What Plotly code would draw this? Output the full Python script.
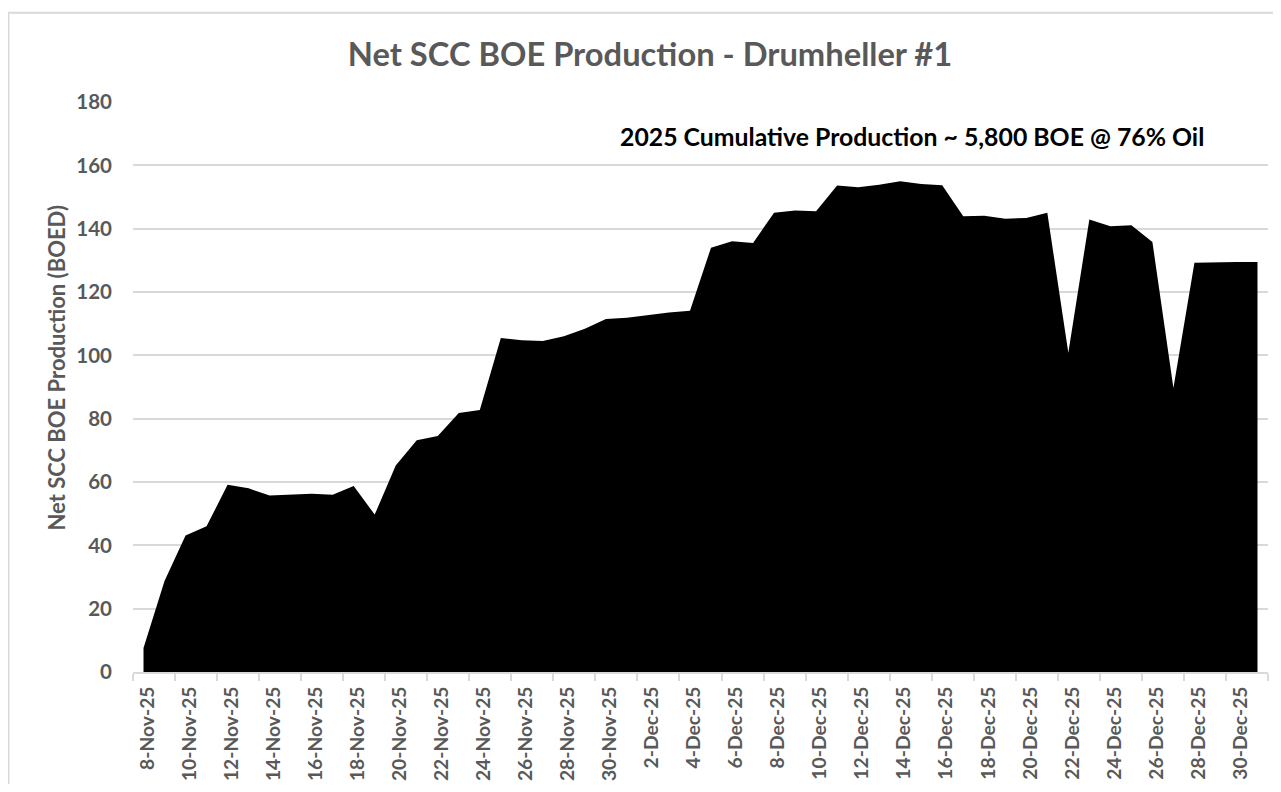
import plotly.graph_objects as go

dates = [
    "8-Nov-25", "9-Nov-25", "10-Nov-25", "11-Nov-25", "12-Nov-25", "13-Nov-25", "14-Nov-25",
    "15-Nov-25", "16-Nov-25", "17-Nov-25", "18-Nov-25", "19-Nov-25", "20-Nov-25", "21-Nov-25",
    "22-Nov-25", "23-Nov-25", "24-Nov-25", "25-Nov-25", "26-Nov-25", "27-Nov-25", "28-Nov-25",
    "29-Nov-25", "30-Nov-25", "1-Dec-25", "2-Dec-25", "3-Dec-25", "4-Dec-25", "5-Dec-25",
    "6-Dec-25", "7-Dec-25", "8-Dec-25", "9-Dec-25", "10-Dec-25", "11-Dec-25", "12-Dec-25",
    "13-Dec-25", "14-Dec-25", "15-Dec-25", "16-Dec-25", "17-Dec-25", "18-Dec-25", "19-Dec-25",
    "20-Dec-25", "21-Dec-25", "22-Dec-25", "23-Dec-25", "24-Dec-25", "25-Dec-25", "26-Dec-25",
    "27-Dec-25", "28-Dec-25", "29-Dec-25", "30-Dec-25", "31-Dec-25",
]

boed = [
    7.6, 28.7, 43.1, 46.0, 59.1, 58.0, 55.7, 56.0, 56.3, 56.0, 58.7, 49.7, 65.2, 73.2,
    74.5, 81.8, 82.7, 105.5, 104.8, 104.5, 106.0, 108.4, 111.5, 111.9, 112.8, 113.5, 114.1,
    134.0, 136.0, 135.5, 145.0, 145.7, 145.5, 153.6, 153.1, 153.9, 155.0, 154.1, 153.7,
    143.9, 144.1, 143.1, 143.4, 145.0, 100.8, 142.9, 140.8, 141.1, 135.8, 89.7, 129.2,
    129.4, 129.5, 129.5,
]

y_ticks = [0, 20, 40, 60, 80, 100, 120, 140, 160, 180]

title_text = "Net SCC BOE Production - Drumheller #1"
y_title_text = "Net SCC BOE Production (BOED)"
note_text = "2025 Cumulative Production ~ 5,800 BOE @ 76% Oil"

pos = list(range(len(dates)))
label_pos = pos[::2]
label_text = dates[::2]
boundary_ticks = [p - 0.5 for p in pos[::2]] + [pos[-1] + 0.5]

GRID = "#d9d9d9"
TXT = "#595959"
FONT = "Lato"

# the page body adds an 8px offset; figure coords = screen coords - 8
OFF = 8
W, H = 1265, 776
L = 133 - OFF
T = 102.3 - OFF
R = W - (1268 - OFF)
B = H - (672.5 - OFF)

fig = go.Figure()
fig.add_trace(go.Scatter(
    x=pos, y=boed, mode="lines", fill="tozeroy",
    line=dict(color="black", width=0), fillcolor="black",
    showlegend=False, hoverinfo="skip",
))

fig.update_layout(
    width=W, height=H,
    margin=dict(l=L, r=R, t=T, b=B, autoexpand=False),
    paper_bgcolor="white", plot_bgcolor="white",
    font=dict(family=FONT, color=TXT),
    title=dict(text="<b>" + title_text + "</b>", x=(650 - OFF) / W, xanchor="center",
               y=1 - (55 - OFF) / H, yanchor="middle", font=dict(size=32.7, color=TXT, family=FONT)),
    xaxis=dict(
        range=[-0.5, pos[-1] + 0.5], tickmode="array", tickvals=label_pos,
        ticktext=["<b>" + t + "</b>" for t in label_text],
        tickangle=-90, ticks="", showgrid=False, zeroline=False,
        showline=True, linecolor=GRID, linewidth=1.5,
        tickfont=dict(size=19.3, color=TXT, family=FONT),
        ticklabelstandoff=5, ticklabelshift=4,
        minor=dict(tickmode="array", tickvals=boundary_ticks, ticks="outside", ticklen=7,
                   tickcolor=GRID, tickwidth=1.5, showgrid=False),
        fixedrange=True,
    ),
    yaxis=dict(
        range=[0, 180], tickmode="array", tickvals=y_ticks,
        ticktext=["<b>%d</b>" % v for v in y_ticks], ticks="",
        showgrid=True, gridcolor=GRID, gridwidth=1.5, zeroline=False, showline=False,
        tickfont=dict(size=20.5, color=TXT, family=FONT), ticklabelstandoff=20,
        fixedrange=True,
    ),
)

pw = W - L - R
ph = H - T - B


def px_x(sx):
    return (sx - OFF - L) / pw


def px_y(sy):
    return (H - B - (sy - OFF)) / ph


fig.add_annotation(
    text="<b>" + y_title_text + "</b>", textangle=-90, showarrow=False,
    xref="paper", yref="paper", x=px_x(57), y=px_y(368),
    xanchor="center", yanchor="middle", font=dict(size=22, color=TXT, family=FONT),
)
fig.add_annotation(
    text="<b>" + note_text + "</b>", showarrow=False,
    xref="paper", yref="paper", x=px_x(911.5), y=px_y(137),
    xanchor="center", yanchor="middle", font=dict(size=24.8, color="black", family=FONT),
)
# chart-area border
fig.add_shape(
    type="rect", xref="paper", yref="paper",
    x0=px_x(8.5), x1=px_x(1320), y0=px_y(830), y1=px_y(13),
    line=dict(color=GRID, width=2), fillcolor="rgba(0,0,0,0)", layer="below",
)

fig.write_html("out.html", config={"displayModeBar": False})
